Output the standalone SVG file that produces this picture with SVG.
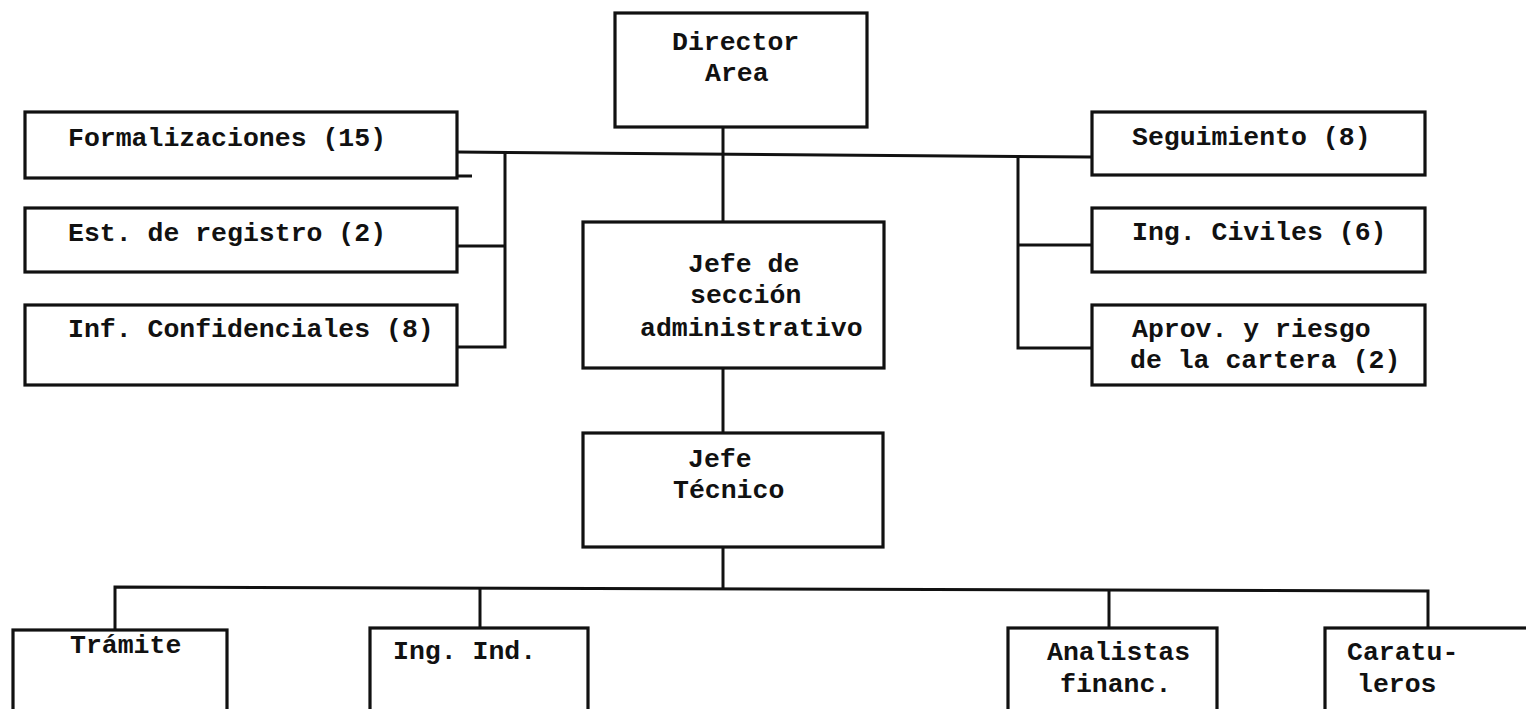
<svg xmlns="http://www.w3.org/2000/svg" width="1526" height="709" viewBox="0 0 1526 709">
<style>
.box{fill:none;stroke:#111;stroke-width:3.2}
.ln{fill:none;stroke:#111;stroke-width:3}
text{font-family:"Liberation Mono","Courier New",monospace;font-weight:bold;font-size:26.5px;fill:#111}
</style>
<rect x="0" y="0" width="1526" height="709" fill="#fff"/>
<g id="connectors">
<polyline class="ln" points="723,127 723,222"/>
<polyline class="ln" points="457,152 1092,157"/>
<polyline class="ln" points="505,152 505,347 457,347"/>
<polyline class="ln" points="457,246 505,246"/>
<polyline class="ln" points="457,176 472,176"/>
<polyline class="ln" points="1018,157 1018,348 1092,348"/>
<polyline class="ln" points="1018,245 1092,245"/>
<polyline class="ln" points="723,368 723,433"/>
<polyline class="ln" points="723,547 723,589"/>
<polyline class="ln" points="115,630 115,587 1428,591 1428,628"/>
<polyline class="ln" points="480,588 480,628"/>
<polyline class="ln" points="1109,590 1109,628"/>
</g>
<g id="director">
<rect class="box" x="615" y="13" width="252" height="114"/>
<text x="672" y="50">Director</text>
<text x="705" y="81">Area</text>
</g>
<g id="formalizaciones">
<rect class="box" x="25" y="112" width="432" height="66"/>
<text x="68" y="146">Formalizaciones (15)</text>
</g>
<g id="est-registro">
<rect class="box" x="25" y="208" width="432" height="64"/>
<text x="68" y="241">Est. de registro (2)</text>
</g>
<g id="inf-confidenciales">
<rect class="box" x="25" y="305" width="432" height="80"/>
<text x="68" y="337">Inf. Confidenciales (8)</text>
</g>
<g id="seguimiento">
<rect class="box" x="1092" y="112" width="333" height="63"/>
<text x="1132" y="145">Seguimiento (8)</text>
</g>
<g id="ing-civiles">
<rect class="box" x="1092" y="208" width="333" height="64"/>
<text x="1132" y="240">Ing. Civiles (6)</text>
</g>
<g id="aprov-riesgo">
<rect class="box" x="1092" y="305" width="333" height="80"/>
<text x="1132" y="337">Aprov. y riesgo</text>
<text x="1130" y="368">de la cartera (2)</text>
</g>
<g id="jefe-seccion">
<rect class="box" x="583" y="222" width="301" height="146"/>
<text x="688" y="272">Jefe de</text>
<text x="690" y="303">sección</text>
<text x="640" y="336">administrativo</text>
</g>
<g id="jefe-tecnico">
<rect class="box" x="583" y="433" width="300" height="114"/>
<text x="688" y="467">Jefe</text>
<text x="673" y="498">Técnico</text>
</g>
<g id="tramite">
<rect class="box" x="13" y="630" width="214" height="100"/>
<text x="70" y="653">Trámite</text>
</g>
<g id="ing-ind">
<rect class="box" x="370" y="628" width="218" height="100"/>
<text x="393" y="659">Ing. Ind.</text>
</g>
<g id="analistas">
<rect class="box" x="1008" y="628" width="209" height="100"/>
<text x="1047" y="660">Analistas</text>
<text x="1060" y="692">financ.</text>
</g>
<g id="caratuleros">
<rect class="box" x="1325" y="628" width="230" height="100"/>
<text x="1347" y="660">Caratu-</text>
<text x="1357" y="692">leros</text>
</g>
</svg>
